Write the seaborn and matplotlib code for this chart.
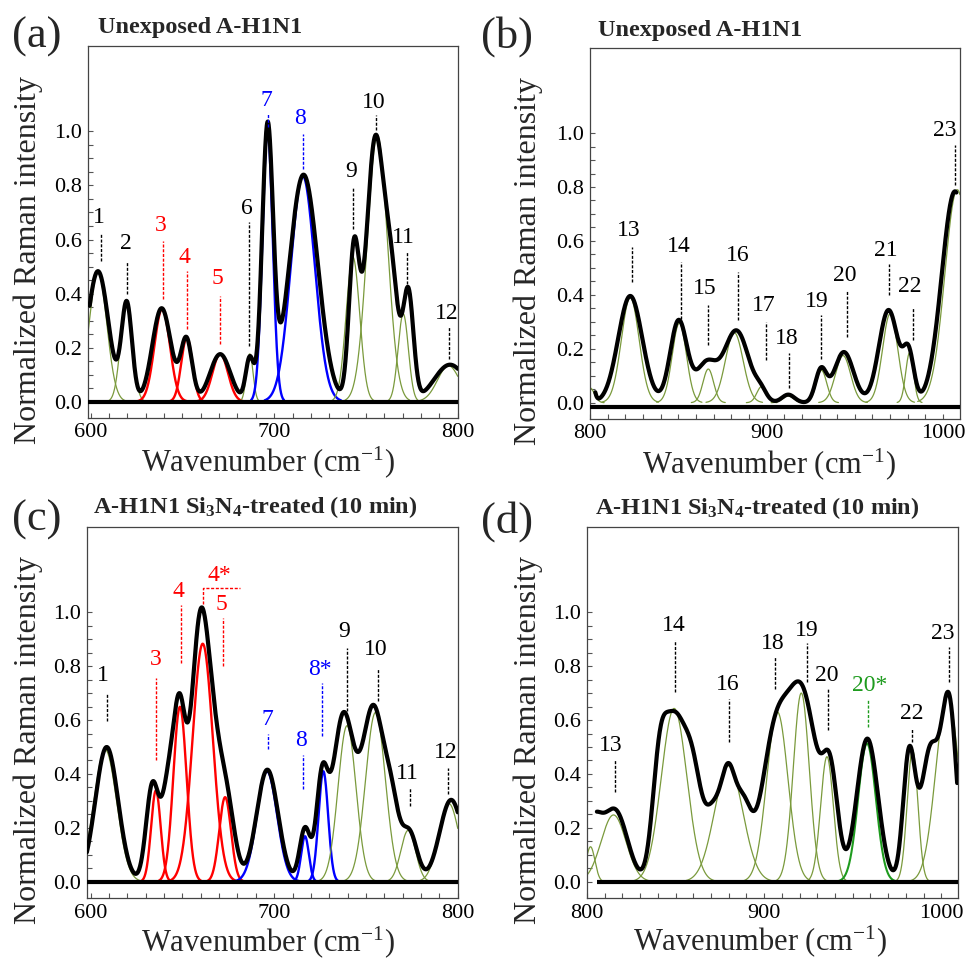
import numpy as np
import matplotlib
matplotlib.use("Agg")
import matplotlib.pyplot as plt
import seaborn as sns
from matplotlib.ticker import MultipleLocator, FixedLocator

# ---------------- data ----------------
# panel (a): fitted component bands (center, height, width, colour kind)
A_COMP_C = [604, 619.5, 639, 652.4, 670.6, 686.7, 696.4, 715.6, 742.9, 756.2, 770.3, 795]
A_COMP_H = [.48, .365, .344, .238, .177, .177, 1.0, .835, .535, .985, .325, .133]
A_COMP_W = [4.8, 3.2, 4.2, 3.0, 4.2, 1.8, 2.8, 6.5, 3.7, 5.5, 2.8, 6.0]
A_COMP_K = ['g', 'g', 'r', 'r', 'r', 'g', 'b', 'b', 'g', 'g', 'g', 'g']
# measured spectrum (black) described by its own peak list
A_ENV_C = [604.0, 619.7, 638.7, 652.2, 670.6, 686.7, 696.4, 716.0, 743.5, 755.0, 764.0, 773.1, 795.8]
A_ENV_H = [.483, .361, .346, .229, .176, .16, 1.0, .84, .55, .96, .40, .395, .137]
A_ENV_W = [5.74, 2.87, 5.09, 3.09, 5.52, 2.2, 3.0, 7.8, 2.8, 4.8, 3.8, 2.8, 8.65]
A_LAB_T = ['1', '2', '3', '4', '5', '6', '7', '8', '9', '10', '11', '12']
A_LAB_X = [605.5, 619.7, 639.2, 652.6, 670.5, 686.3, 696.4, 715.6, 742.9, 755.7, 772.1, 795]
A_TXT_X = [604.7, 619.4, 638, 651, 669, 685, 696, 714.3, 741.7, 754.4, 770.3, 794]
A_TXT_Y = [.683, .584, .652, .535, .454, .714, 1.115, 1.047, .85, 1.105, .609, .325]
A_LAB_TOP = [.62, .52, .596, .485, .39, .664, 1.065, .99, .794, 1.06, .553, .281]
A_LAB_BOT = [.52, .40, .38, .27, .214, .207, 1.016, .86, .64, 1.004, .436, .158]
A_LAB_K = ['k', 'k', 'r', 'r', 'r', 'k', 'b', 'b', 'k', 'k', 'k', 'k']

# panel (b)
B_COMP_C = [800, 822.8, 850.6, 867, 881.7, 897.2, 912.2, 931.1, 943.3, 970, 981, 1008]
B_COMP_H = [.055, .39, .295, .125, .26, .06, .025, .12, .175, .33, .185, .79]
B_COMP_W = [2.5, 5, 4, 3, 5, 2.7, 3, 3, 4.3, 4.3, 2.2, 7]
B_COMP_K = ['g'] * 12
B_ENV_C = [800.0, 822.8, 850.2, 865.8, 882.9, 896.8, 912.3, 930.8, 943.8, 969.1, 980.5, 1006.7]
B_ENV_H = [.133, .396, .304, .141, .267, .033, .030, .120, .188, .344, .17, .784]
B_ENV_W = [1.8, 6.8, 4.81, 5.71, 7.06, 3.14, 3.58, 3.14, 5.47, 5.5, 3.0, 7.47]
B_LAB_T = ['13', '14', '15', '16', '17', '18', '19', '20', '21', '22', '23']
B_LAB_X = [823.8, 851.6, 867.1, 884.1, 899.7, 912.9, 930.6, 945.7, 969.5, 982.7, 1006.6]
B_TXT_X = [821.9, 850.5, 865.2, 883.5, 898.6, 911.4, 928.7, 944.4, 967.6, 981.1, 1001]
B_TXT_Y = [.64, .578, .423, .547, .362, .238, .374, .473, .565, .43, 1.01]
B_LAB_TOP = [.578, .522, .362, .485, .30, .183, .325, .417, .516, .35, .954]
B_LAB_BOT = [.448, .312, .214, .306, .158, .053, .164, .244, .40, .232, .806]
B_LAB_K = ['k'] * 11

# panel (c)
C_COMP_C = [608, 635.6, 648.7, 661.1, 673.3, 696.1, 716.8, 726.8, 739.7, 755.2, 773, 795.2]
C_COMP_H = [.49, .339, .649, .883, .314, .41, .169, .41, .579, .628, .191, .29]
C_COMP_W = [6.2, 2.6, 3.6, 5.5, 3.2, 5.5, 2.1, 2.6, 4.9, 5.4, 4, 5.5]
C_COMP_K = ['g', 'r', 'r', 'r', 'r', 'b', 'b', 'b', 'g', 'g', 'g', 'g']
C_ENV_C = [608.8, 633.7, 642.4, 648.5, 659.5, 667.1, 674.4, 696.3, 716.8, 726.0, 737.6, 754.1, 764.3, 773.6, 796.4]
C_ENV_H = [.50, .356, .336, .555, .909, .350, .256, .416, .197, .348, .610, .641, .196, .182, .304]
C_ENV_W = [6.2, 3.41, 3.49, 3.24, 4.88, 4.61, 4.33, 5.86, 2.90, 3.10, 5.77, 6.17, 3.79, 4.26, 6.27]
C_LAB_T = ['1', '3', '4', '5', '7', '8', '8*', '9', '10', '11', '12']
C_LAB_X = [608.7, 635.7, 649.4, 672.1, 696.7, 715.7, 726.2, 739.5, 756.8, 773.8, 794.5]
C_TXT_X = [606.9, 635.5, 647.9, 671.2, 696.2, 714.4, 725, 738, 755.4, 772.3, 793.6]
C_TXT_Y = [.764, .825, 1.078, 1.028, .603, .523, .788, .93, .862, .40, .48]
C_LAB_TOP = [.696, .757, 1.026, .98, .548, .472, .739, .868, .794, .349, .422]
C_LAB_BOT = [.597, .45, .813, .80, .493, .345, .542, .634, .671, .283, .326]
C_LAB_K = ['k', 'r', 'r', 'r', 'b', 'b', 'b', 'k', 'k', 'k', 'k']
C_BRACKET_X = [661, 681.6]
C_BRACKET_Y = [1.03, 1.09]
C_BRACKET_TXT = ('4*', 670.1, 1.137)

# panel (d)
D_COMP_C = [802, 815, 849.2, 880, 907.5, 921, 935.5, 958.1, 983.8, 1003.5]
D_COMP_H = [.13, .248, .643, .43, .63, .70, .464, .513, .489, .693]
D_COMP_W = [2.5, 7, 7.2, 8, 6, 4.5, 3.6, 5, 3, 6.5]
D_COMP_K = ['g', 'g', 'g', 'g', 'g', 'g', 'g', 'G', 'g', 'g']
D_ENV_C = [803, 815.9, 841, 849, 858.9, 871.7, 879.7, 888.0, 905.8, 921.9, 937.5, 958.3, 981.9, 993.8, 1004.5]
D_ENV_H = [.2, .263, .42, .47, .445, .227, .342, .258, .498, .671, .341, .531, .47, .484, .644]
D_ENV_W = [5, 6.87, 4.2, 5, 5.63, 4.5, 3.94, 4.58, 7.61, 8.47, 4.22, 6.0, 3.44, 5.08, 4.18]
D_LAB_T = ['13', '14', '16', '18', '19', '20', '20*', '22', '23']
D_LAB_X = [815.6, 849.5, 880.2, 905.9, 924.4, 936, 958.6, 983.4, 1004.3]
D_TXT_X = [813.7, 849.1, 879.6, 904.6, 923.8, 935.1, 959.5, 983.1, 1000.9]
D_TXT_Y = [.506, .951, .732, .883, .932, .765, .728, .623, .92]
D_LAB_TOP = [.457, .898, .679, .833, .885, .72, .679, .572, .87]
D_LAB_BOT = [.333, .704, .519, .716, .741, .564, .574, .519, .741]
D_LAB_K = ['k', 'k', 'k', 'k', 'k', 'k', 'G', 'k', 'k']


def band(x, c, h, w):
    return h * np.exp(-0.5 * ((x - c) / w) ** 2)


# ---------------- style ----------------
sns.set_theme(style="white")
plt.rcParams['font.family'] = ['Liberation Serif', 'DejaVu Serif']
plt.rcParams['mathtext.fontset'] = 'custom'
plt.rcParams['mathtext.rm'] = 'Liberation Serif'
plt.rcParams['mathtext.it'] = 'Liberation Serif:italic'
plt.rcParams['mathtext.bf'] = 'Liberation Serif:bold'

COL = {'g': '#7a9a3c', 'r': '#ff0000', 'b': '#0000ff', 'G': '#1e9b1e', 'k': 'black'}
LW = {'g': 0.9, 'r': 1.7, 'b': 1.7, 'G': 1.5}

fig = plt.figure(figsize=(9.76, 9.63), dpi=100)

panels = [
    dict(pos=[0.090, 0.566, 0.379, 0.386], xlim=(598.5, 800), xt=[600, 700, 800],
         cc=A_COMP_C, ch=A_COMP_H, cw=A_COMP_W, ck=A_COMP_K, ec=A_ENV_C, eh=A_ENV_H, ew=A_ENV_W,
         env=(599.5, 800), base=(598.5, 800, 0.0),
         lt=A_LAB_T, lx=A_LAB_X, tx=A_TXT_X, ty=A_TXT_Y, ltop=A_LAB_TOP, lbot=A_LAB_BOT, lk=A_LAB_K,
         letter='(a)', lpos=(0.012, 0.9616), title='Unexposed A-H1N1', tpos=(0.1004, 0.971),
         ylpos=(0.029, 0.73), xlpos=(0.275, 0.52)),
    dict(pos=[0.6045, 0.565, 0.379, 0.385], xlim=(800, 1009.5), xt=[800, 900, 1000],
         cc=B_COMP_C, ch=B_COMP_H, cw=B_COMP_W, ck=B_COMP_K, ec=B_ENV_C, eh=B_ENV_H, ew=B_ENV_W,
         env=(803, 1007.5), base=(800, 1009.5, -0.017),
         lt=B_LAB_T, lx=B_LAB_X, tx=B_TXT_X, ty=B_TXT_Y, ltop=B_LAB_TOP, lbot=B_LAB_BOT, lk=B_LAB_K,
         letter='(b)', lpos=(0.493, 0.9616), title='Unexposed A-H1N1', tpos=(0.6127, 0.9688),
         ylpos=(0.541, 0.729), xlpos=(0.788, 0.518)),
    dict(pos=[0.089, 0.0675, 0.380, 0.385], xlim=(598, 800), xt=[600, 700, 800],
         cc=C_COMP_C, ch=C_COMP_H, cw=C_COMP_W, ck=C_COMP_K, ec=C_ENV_C, eh=C_ENV_H, ew=C_ENV_W,
         env=(598, 800), base=(598, 800, 0.0),
         lt=C_LAB_T, lx=C_LAB_X, tx=C_TXT_X, ty=C_TXT_Y, ltop=C_LAB_TOP, lbot=C_LAB_BOT, lk=C_LAB_K,
         letter='(c)', lpos=(0.012, 0.46), title=r'A-H1N1 Si$_\mathbf{3}$N$_\mathbf{4}$-treated (10 min)',
         tpos=(0.0953, 0.4735), ylpos=(0.029, 0.232), xlpos=(0.275, 0.0215)),
    dict(pos=[0.6014, 0.0675, 0.3802, 0.385], xlim=(800, 1009.5), xt=[800, 900, 1000],
         cc=D_COMP_C, ch=D_COMP_H, cw=D_COMP_W, ck=D_COMP_K, ec=D_ENV_C, eh=D_ENV_H, ew=D_ENV_W,
         env=(805.6, 1009), base=(805.6, 1009.5, 0.0),
         lt=D_LAB_T, lx=D_LAB_X, tx=D_TXT_X, ty=D_TXT_Y, ltop=D_LAB_TOP, lbot=D_LAB_BOT, lk=D_LAB_K,
         letter='(d)', lpos=(0.493, 0.4583), title=r'A-H1N1 Si$_\mathbf{3}$N$_\mathbf{4}$-treated (10 min)',
         tpos=(0.6096, 0.4725), ylpos=(0.541, 0.232), xlpos=(0.779, 0.0225)),
]

for i, P in enumerate(panels):
    ax = fig.add_axes(P['pos'])
    x0, x1 = P['xlim']
    # component bands
    for c, h, w, k in zip(P['cc'], P['ch'], P['cw'], P['ck']):
        lo, hi = max(x0, c - 3.2 * w), min(x1, c + 3.2 * w)
        xs = np.linspace(lo, hi, 200)
        sns.lineplot(x=xs, y=band(xs, c, h, w), ax=ax, color=COL[k],
                     linewidth=LW[k], estimator=None, sort=False, zorder=2)
    # zero baseline
    bx0, bx1, by = P['base']
    ax.plot([bx0, bx1], [by, by], color='black', lw=3.0, zorder=3, solid_capstyle='butt')
    # measured spectrum
    ex = np.linspace(P['env'][0], P['env'][1], 1200)
    ey = np.zeros_like(ex)
    for c, h, w in zip(P['ec'], P['eh'], P['ew']):
        ey = ey + band(ex, c, h, w)
    sns.lineplot(x=ex, y=ey, ax=ax, color='black', linewidth=3.0,
                 estimator=None, sort=False, zorder=4)
    # peak labels with dashed leaders
    for t, lx, tx, ty, ltop, lbot, k in zip(P['lt'], P['lx'], P['tx'], P['ty'],
                                            P['ltop'], P['lbot'], P['lk']):
        ax.plot([lx, lx], [lbot, ltop], color=COL[k], lw=1.0, ls=(0, (2.2, 1.2)), zorder=5)
        ax.text(tx, ty, t, color=COL[k], fontsize=17, ha='center', va='center', zorder=6)
    if i == 2:
        bx, byy = C_BRACKET_X, C_BRACKET_Y
        ax.plot([bx[0], bx[0], bx[1]], [byy[0], byy[1], byy[1]], color='red', lw=1.0,
                ls=(0, (2.2, 1.2)), zorder=5)
        ax.text(C_BRACKET_TXT[1], C_BRACKET_TXT[2], C_BRACKET_TXT[0], color='red', fontsize=17,
                ha='center', va='center')
    ax.set_xlim(x0, x1)
    ax.set_ylim(-0.06, 1.315)
    ax.xaxis.set_major_locator(FixedLocator(P['xt']))
    ax.xaxis.set_minor_locator(MultipleLocator(10))
    ax.yaxis.set_major_locator(FixedLocator([0, .2, .4, .6, .8, 1.0]))
    ax.yaxis.set_minor_locator(FixedLocator(np.arange(0.05, 1.01, 0.05)))
    ax.set_yticklabels(['0.0', '0.2', '0.4', '0.6', '0.8', '1.0'])
    ax.set_xticklabels([str(v) for v in P['xt']])
    ax.tick_params(which='both', direction='in', length=3.5, width=0.8, color='#555555',
                   labelsize=16, labelcolor='black', pad=4, bottom=True, left=True,
                   top=False, right=False)
    for s in ax.spines.values():
        s.set_linewidth(0.9)
        s.set_color('#444444')
    ax.set_xlabel('')
    ax.set_ylabel('')
    fig.text(P['lpos'][0], P['lpos'][1], P['letter'], fontsize=32, ha='left', va='center')
    fig.text(P['tpos'][0], P['tpos'][1], P['title'], fontsize=17.5, fontweight='bold',
             ha='left', va='center')
    fig.text(P['ylpos'][0], P['ylpos'][1], 'Normalized Raman intensity', fontsize=23,
             rotation=90, ha='center', va='center')
    fig.text(P['xlpos'][0], P['xlpos'][1], r'Wavenumber (cm$^{\mathrm{-1}}$)', fontsize=22,
             ha='center', va='center')

fig.savefig('out.png', dpi=100)
